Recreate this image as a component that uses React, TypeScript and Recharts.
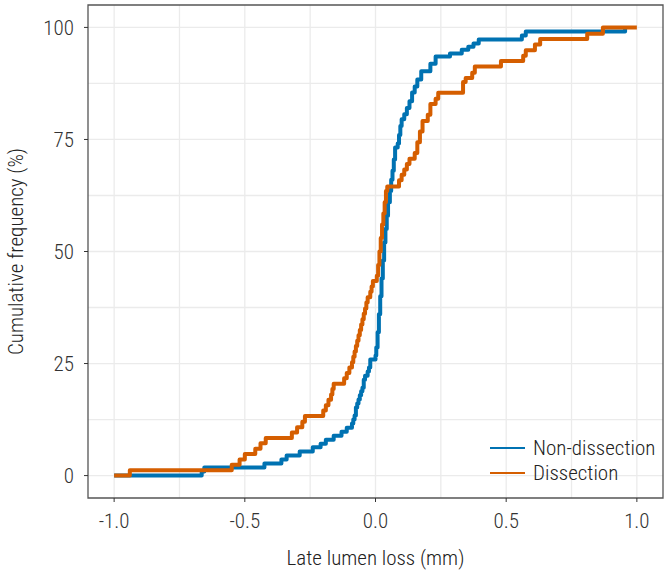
import React from "react";
import {
    LineChart,
    Line,
    XAxis,
    YAxis,
    CartesianGrid,
    ReferenceArea,
    Label,
} from "recharts";

const FONT = "'Roboto Condensed', 'Liberation Sans Narrow', 'DejaVu Sans Condensed', sans-serif";

// x = late lumen loss (mm), y = cumulative frequency (%)
const nonDissection = [
    { x: -1.0, y: 0 }, { x: -0.665, y: 0.9 }, { x: -0.655, y: 1.8 }, { x: -0.425, y: 2.7 },
    { x: -0.36, y: 3.6 }, { x: -0.34, y: 4.5 }, { x: -0.29, y: 5.4 }, { x: -0.24, y: 6.3 },
    { x: -0.21, y: 7.1 }, { x: -0.19, y: 8.0 }, { x: -0.16, y: 8.9 }, { x: -0.13, y: 9.8 },
    { x: -0.11, y: 10.7 }, { x: -0.09, y: 11.6 }, { x: -0.085, y: 12.5 }, { x: -0.08, y: 13.4 },
    { x: -0.075, y: 15.2 }, { x: -0.07, y: 16.1 }, { x: -0.065, y: 17.0 }, { x: -0.06, y: 17.9 },
    { x: -0.055, y: 18.8 }, { x: -0.05, y: 19.6 }, { x: -0.045, y: 21.4 }, { x: -0.04, y: 22.3 },
    { x: -0.03, y: 23.2 }, { x: -0.025, y: 24.1 }, { x: -0.02, y: 25.9 }, { x: 0.0, y: 26.8 },
    { x: 0.003, y: 28.6 }, { x: 0.008, y: 32 }, { x: 0.013, y: 36 }, { x: 0.018, y: 40 },
    { x: 0.023, y: 44 }, { x: 0.028, y: 48 }, { x: 0.033, y: 52 }, { x: 0.038, y: 55 },
    { x: 0.043, y: 58 }, { x: 0.048, y: 61 }, { x: 0.055, y: 63.5 }, { x: 0.06, y: 66 },
    { x: 0.065, y: 68 }, { x: 0.07, y: 70.5 }, { x: 0.075, y: 73.2 }, { x: 0.085, y: 74.1 },
    { x: 0.09, y: 76 }, { x: 0.095, y: 78 }, { x: 0.1, y: 79.5 }, { x: 0.11, y: 80.6 },
    { x: 0.12, y: 82 }, { x: 0.13, y: 83.5 }, { x: 0.14, y: 85.5 }, { x: 0.15, y: 86.8 },
    { x: 0.16, y: 88.4 }, { x: 0.175, y: 90.2 }, { x: 0.21, y: 91.9 }, { x: 0.23, y: 93.5 },
    { x: 0.285, y: 94.2 }, { x: 0.33, y: 95.0 }, { x: 0.355, y: 95.7 }, { x: 0.375, y: 96.4 },
    { x: 0.395, y: 97.3 }, { x: 0.56, y: 98.2 }, { x: 0.575, y: 99.1 }, { x: 0.955, y: 100 },
];

const dissection = [
    { x: -1.0, y: 0 }, { x: -0.94, y: 1.2 }, { x: -0.55, y: 2.4 }, { x: -0.52, y: 3.6 },
    { x: -0.5, y: 4.8 }, { x: -0.46, y: 6.0 }, { x: -0.44, y: 7.2 }, { x: -0.42, y: 8.4 },
    { x: -0.32, y: 9.6 }, { x: -0.3, y: 10.8 }, { x: -0.28, y: 12.0 }, { x: -0.27, y: 13.3 },
    { x: -0.2, y: 14.5 }, { x: -0.19, y: 15.7 }, { x: -0.18, y: 16.9 }, { x: -0.17, y: 18.1 },
    { x: -0.165, y: 19.3 }, { x: -0.16, y: 20.5 }, { x: -0.12, y: 21.7 }, { x: -0.11, y: 22.9 },
    { x: -0.1, y: 24.1 }, { x: -0.09, y: 25.3 }, { x: -0.085, y: 26.5 }, { x: -0.08, y: 27.7 },
    { x: -0.075, y: 28.9 }, { x: -0.07, y: 30.1 }, { x: -0.065, y: 31.3 }, { x: -0.06, y: 32.5 },
    { x: -0.055, y: 33.7 }, { x: -0.05, y: 34.9 }, { x: -0.045, y: 36.1 }, { x: -0.04, y: 37.3 },
    { x: -0.035, y: 38.6 }, { x: -0.03, y: 39.8 }, { x: -0.02, y: 41.0 }, { x: -0.015, y: 42.2 },
    { x: -0.01, y: 43.4 }, { x: 0.005, y: 44.6 }, { x: 0.01, y: 47 }, { x: 0.015, y: 50 },
    { x: 0.02, y: 53 }, { x: 0.025, y: 56 }, { x: 0.03, y: 58.5 }, { x: 0.035, y: 61 },
    { x: 0.04, y: 63.5 }, { x: 0.045, y: 64.5 }, { x: 0.09, y: 65.9 }, { x: 0.1, y: 67.1 },
    { x: 0.11, y: 68.3 }, { x: 0.12, y: 69.5 }, { x: 0.13, y: 70.7 }, { x: 0.15, y: 72 },
    { x: 0.16, y: 74.4 }, { x: 0.17, y: 76.8 }, { x: 0.18, y: 79.1 }, { x: 0.2, y: 80.5 },
    { x: 0.21, y: 82.9 }, { x: 0.23, y: 84.1 }, { x: 0.24, y: 85.4 }, { x: 0.335, y: 87.8 },
    { x: 0.345, y: 88.7 }, { x: 0.37, y: 89.9 }, { x: 0.38, y: 91.3 }, { x: 0.48, y: 92.5 },
    { x: 0.565, y: 93.7 }, { x: 0.575, y: 94.9 }, { x: 0.61, y: 96.2 }, { x: 0.63, y: 97.4 },
    { x: 0.81, y: 98.6 }, { x: 0.87, y: 100 }, { x: 1.0, y: 100 },
];

const seriesNames = ["Non-dissection", "Dissection"];
const seriesColors = ["#0072B2", "#D55E00"];

const xTicks = [-1, -0.5, 0, 0.5, 1];
const yTicks = [0, 25, 50, 75, 100];
const xGrid = [-1, -0.75, -0.5, -0.25, 0, 0.25, 0.5, 0.75, 1];
const yGrid = [0, 12.5, 25, 37.5, 50, 62.5, 75, 87.5, 100];

const App = () => {
    const tickStyle = { fontSize: 21, fill: "#333", fontFamily: FONT, fontWeight: 300 };
    const titleStyle = { fontSize: 21, fill: "#222", fontFamily: FONT, fontWeight: 300 };
    return (
        <div style={{ position: "absolute", left: 0, top: 0, width: 669, height: 578, background: "#fff" }}>
            <LineChart
                width={669}
                height={578}
                margin={{ top: 5, right: 6, left: 0, bottom: 0 }}
            >
                <CartesianGrid
                    stroke="#ebebeb"
                    strokeWidth={1.3}
                    horizontalValues={yGrid}
                    verticalValues={xGrid}
                />
                <XAxis
                    dataKey="x"
                    type="number"
                    domain={[-1.1, 1.1]}
                    ticks={xTicks}
                    allowDataOverflow
                    tickFormatter={(v: number) => v.toFixed(1)}
                    height={80}
                    axisLine={false}
                    tickLine={{ stroke: "#333" }}
                    tickSize={4}
                    tickMargin={11}
                    tick={tickStyle}
                >
                    <Label
                        value="Late lumen loss (mm)"
                        position="insideBottom"
                        offset={13}
                        style={titleStyle}
                    />
                </XAxis>
                <YAxis
                    type="number"
                    domain={[-5, 105]}
                    ticks={yTicks}
                    allowDataOverflow
                    width={88}
                    axisLine={false}
                    tickLine={{ stroke: "#333" }}
                    tickSize={4}
                    tickMargin={10}
                    tick={tickStyle}
                >
                    <Label
                        value="Cumulative frequency (%)"
                        angle={-90}
                        position="insideLeft"
                        offset={16}
                        textAnchor="middle"
                        style={{ ...titleStyle, textAnchor: "middle" }}
                    />
                </YAxis>
                <Line
                    data={nonDissection}
                    dataKey="y"
                    name={seriesNames[0]}
                    type="stepAfter"
                    stroke={seriesColors[0]}
                    strokeWidth={4}
                    strokeLinejoin="round"
                    dot={false}
                    isAnimationActive={false}
                />
                <Line
                    data={dissection}
                    dataKey="y"
                    name={seriesNames[1]}
                    type="stepAfter"
                    stroke={seriesColors[1]}
                    strokeWidth={4}
                    strokeLinejoin="round"
                    dot={false}
                    isAnimationActive={false}
                />
                <ReferenceArea
                    x1={-1.1}
                    x2={1.1}
                    y1={-5}
                    y2={105}
                    fill="none"
                    fillOpacity={0}
                    stroke="#555"
                    strokeWidth={1.3}
                />
            </LineChart>
            <div style={{ position: "absolute", left: 490, top: 435, fontFamily: FONT, fontSize: 21, fontWeight: 300, color: "#222" }}>
                {seriesNames.map((name, i) => (
                    <div key={name} style={{ display: "flex", alignItems: "center", height: 25 }}>
                        <div style={{ width: 35, height: 2, background: seriesColors[i], marginRight: 8 }} />
                        <span>{name}</span>
                    </div>
                ))}
            </div>
        </div>
    );
};

export default App;
